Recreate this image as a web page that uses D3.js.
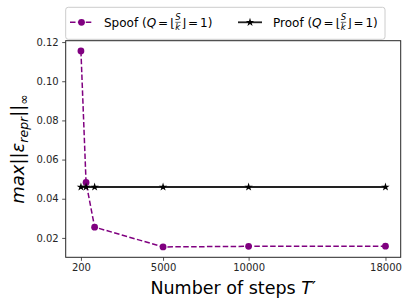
<!DOCTYPE html>
<html>
<head>
<meta charset="utf-8">
<script src="https://cdn.jsdelivr.net/npm/d3@7"></script>
<style>
  body { margin: 0; background: #fff; }
  text { font-family: "DejaVu Sans", sans-serif; }
</style>
</head>
<body>
<div id="chart"></div>
<script>
// data
const steps = [200, 500, 1000, 5000, 10000, 18000];
const spoofErr = [0.1155, 0.0483, 0.0255, 0.0154, 0.0157, 0.0158];
const proofErr = [0.046, 0.046, 0.046, 0.046, 0.046, 0.046];
const xTicks = [200, 5000, 10000, 18000];
const yTicks = [0.02, 0.04, 0.06, 0.08, 0.10, 0.12];

const width = 407, height = 308;
const margin = { top: 40.7, right: 6.3, bottom: 50.7, left: 65.7 };

const svg = d3.select("#chart").append("svg")
  .attr("width", width)
  .attr("height", height);

const x = d3.scaleLinear()
  .domain([200 - 17800 * 0.05, 18000 + 17800 * 0.05])
  .range([margin.left, width - margin.right]);

const y = d3.scaleLinear()
  .domain([0.0101, 0.1207])
  .range([height - margin.bottom, margin.top]);

// axes
const xAxis = svg.append("g")
  .attr("transform", `translate(0,${height - margin.bottom})`)
  .call(d3.axisBottom(x).tickValues(xTicks).tickFormat(d3.format("d")).tickSize(3.5).tickPadding(3.5));

const yAxis = svg.append("g")
  .attr("transform", `translate(${margin.left},0)`)
  .call(d3.axisLeft(y).tickValues(yTicks).tickFormat(d3.format(".2f")).tickSize(3.5).tickPadding(3.5));

[xAxis, yAxis].forEach(g => {
  g.select(".domain").remove();
  g.selectAll("text").attr("font-size", "10px").attr("fill", "#262626");
  g.selectAll("line").attr("stroke", "#262626").attr("stroke-width", 0.8);
});

// frame
svg.append("rect")
  .attr("x", margin.left)
  .attr("y", margin.top)
  .attr("width", width - margin.left - margin.right)
  .attr("height", height - margin.top - margin.bottom)
  .attr("fill", "none")
  .attr("stroke", "#262626")
  .attr("stroke-width", 1);

// spoof series
const line = d3.line().x((d, i) => x(steps[i])).y(d => y(d));

svg.append("path")
  .datum(spoofErr)
  .attr("d", line)
  .attr("fill", "none")
  .attr("stroke", "purple")
  .attr("stroke-width", 1.5)
  .attr("stroke-dasharray", "5.5,2.4");

svg.append("g")
  .selectAll("circle")
  .data(spoofErr)
  .enter()
  .append("circle")
  .attr("cx", (d, i) => x(steps[i]))
  .attr("cy", d => y(d))
  .attr("r", 3.4)
  .attr("fill", "purple");

// proof series
svg.append("path")
  .datum(proofErr)
  .attr("d", line)
  .attr("fill", "none")
  .attr("stroke", "#222")
  .attr("stroke-width", 1.8);

const star = d3.symbol().type(d3.symbolStar).size(22);
svg.append("g")
  .selectAll("path")
  .data(proofErr)
  .enter()
  .append("path")
  .attr("d", star)
  .attr("transform", (d, i) => `translate(${x(steps[i])},${y(d)})`)
  .attr("fill", "#000");

// axis titles
svg.append("text")
  .attr("x", (margin.left + width - margin.right) / 2)
  .attr("y", 294)
  .attr("text-anchor", "middle")
  .attr("font-size", "17.5px")
  .attr("fill", "#000")
  .call(t => {
    t.append("tspan").text("Number of steps ");
    t.append("tspan").attr("font-style", "italic").text("T");
    t.append("tspan").text("\u2032");
  });

const yl = svg.append("text")
  .attr("transform", `translate(24,${(margin.top + height - margin.bottom) / 2}) rotate(-90)`)
  .attr("text-anchor", "middle")
  .attr("font-size", "18px")
  .attr("fill", "#000");
yl.append("tspan").attr("font-style", "italic").text("max");
yl.append("tspan").text("||");
yl.append("tspan").attr("font-style", "italic").text("\u03b5");
yl.append("tspan").attr("font-style", "italic").attr("font-size", "12.5px").attr("dy", 4).text("repr");
yl.append("tspan").attr("dy", -4).text("||");
yl.append("tspan").attr("font-size", "12.5px").attr("dy", 4).text("\u221e");

// legend
const legend = svg.append("g");
legend.append("rect")
  .attr("x", 65.7).attr("y", 7.3)
  .attr("width", 319.3).attr("height", 32)
  .attr("rx", 2.5)
  .attr("fill", "#fff").attr("fill-opacity", 0.8)
  .attr("stroke", "#ccc").attr("stroke-width", 1);

const ly = 22.3;
legend.append("line")
  .attr("x1", 70).attr("x2", 92).attr("y1", ly).attr("y2", ly)
  .attr("stroke", "purple").attr("stroke-width", 1.5).attr("stroke-dasharray", "5.5,2.4");
legend.append("circle").attr("cx", 81.5).attr("cy", ly).attr("r", 3.4).attr("fill", "purple");

legend.append("line")
  .attr("x1", 238).attr("x2", 262).attr("y1", ly).attr("y2", ly)
  .attr("stroke", "#222").attr("stroke-width", 1.8);
legend.append("path").attr("d", star).attr("transform", `translate(250,${ly})`).attr("fill", "#000");

// label with the floor-fraction, laid out piece by piece
function mathLabel(x0, name) {
  const base = ly + 4.5;
  let cx = x0;
  const put = (txt, opts = {}) => {
    const t = legend.append("text")
      .attr("x", cx).attr("y", base + (opts.dy || 0))
      .attr("font-size", (opts.size || 12) + "px")
      .attr("font-style", opts.italic ? "italic" : "normal")
      .attr("fill", "#000")
      .text(txt);
    cx += t.node().getComputedTextLength() + (opts.gap || 0);
    return t;
  };
  put(name + " (");
  put("Q", { italic: true, gap: 2 });
  put("=", { gap: 2 });
  put("\u230a");
  // fraction S over k
  const fx = cx + 0.5;
  const s = legend.append("text").attr("x", fx).attr("y", base - 6.5)
    .attr("font-size", "8.5px").attr("font-style", "italic").text("S");
  const k = legend.append("text").attr("x", fx).attr("y", base + 3)
    .attr("font-size", "8.5px").attr("font-style", "italic").text("k");
  const fw = Math.max(s.node().getComputedTextLength(), k.node().getComputedTextLength());
  legend.append("line").attr("x1", fx).attr("x2", fx + fw)
    .attr("y1", base - 4.5).attr("y2", base - 4.5).attr("stroke", "#000").attr("stroke-width", 0.6);
  cx = fx + fw + 0.5;
  put("\u230b", { gap: 2 });
  put("=", { gap: 2 });
  put("1)");
}
mathLabel(104, "Spoof");
mathLabel(273, "Proof");
</script>
</body>
</html>
